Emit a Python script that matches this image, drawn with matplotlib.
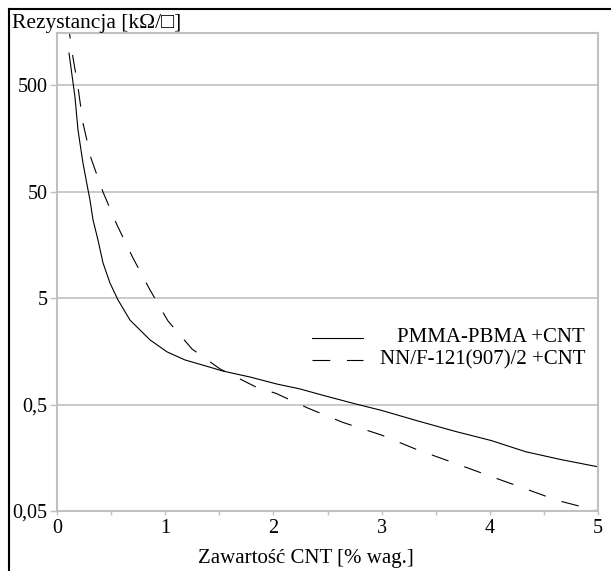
import matplotlib
matplotlib.use("Agg")
import matplotlib.pyplot as plt
from matplotlib.lines import Line2D
from matplotlib.ticker import FixedLocator, NullLocator

# zawartość CNT [% wag.] i rezystancja [kΩ/□]
x_pmma = [0.111, 0.166, 0.194, 0.240, 0.287, 0.305, 0.333, 0.379, 0.425, 0.490,
          0.564, 0.675, 0.860, 1.017, 1.183, 1.414, 1.534, 1.784, 2.033, 2.246,
          2.458, 2.747, 3.0, 3.324, 3.684, 4.009, 4.333, 4.658, 5.0]
r_pmma = [998, 386, 189, 92.6, 51.6, 41.6, 27.0, 17.5, 10.7, 6.9,
          4.79, 3.10, 2.02, 1.56, 1.31, 1.12, 1.03, 0.906, 0.778, 0.70,
          0.61, 0.51, 0.44, 0.353, 0.279, 0.230, 0.18, 0.152, 0.130]

x_nn = [0.10, 0.139, 0.194, 0.240, 0.314, 0.425, 0.555, 0.702, 0.860, 1.026,
        1.248, 1.506, 1.839, 2.026, 2.314, 2.64, 3.0, 3.324, 3.648, 3.973,
        4.297, 4.622, 5.0]
r_nn = [2000, 1021, 479, 220, 103, 49.5, 24.2, 11.9, 5.94, 3.04,
        1.66, 1.08, 0.73, 0.635, 0.465, 0.34, 0.258, 0.189, 0.144, 0.109,
        0.083, 0.063, 0.05]

labels = ['PMMA-PBMA +CNT', 'NN/F-121(907)/2 +CNT']
y_ticks = [0.05, 0.5, 5, 50, 500]
y_ticklabels = ['0,05', '0,5', '5', '50', '500']
x_ticks = [0, 1, 2, 3, 4, 5]

plt.rcParams['font.family'] = ['Liberation Serif', 'DejaVu Serif']
grey = '#c0c0c0'
dash = (16, 15)

fig = plt.figure(figsize=(6.11, 5.71), dpi=100)
ax = fig.add_axes([57 / 611, 60 / 571, 541 / 611, 478 / 571])

ax.plot(x_pmma, r_pmma, color='black', lw=0.8)
ax.plot(x_nn, r_nn, color='black', lw=0.8, dashes=dash)

ax.set_yscale('log')
ax.set_xlim(0, 5)
ax.set_ylim(0.05, 1540)

ax.yaxis.set_major_locator(FixedLocator(y_ticks))
ax.yaxis.set_minor_locator(NullLocator())
ax.set_yticklabels(y_ticklabels)
ax.set_xticks(x_ticks)
ax.set_xticks([0.5, 1.5, 2.5, 3.5, 4.5], minor=True)

ax.grid(axis='y', color=grey, lw=1.2)
ax.set_axisbelow(True)
for s in ax.spines.values():
    s.set_color(grey)
    s.set_linewidth(1.5)
ax.tick_params(which='both', direction='out', width=1, color=grey,
               labelsize=14.5, labelcolor='black')
ax.tick_params(axis='x', which='both', length=3, pad=3)
ax.tick_params(axis='y', length=5, pad=2)

fig.text(12 / 611, 1 - 28 / 571, 'Rezystancja [kΩ/□]', fontsize=15.5,
         ha='left', va='baseline')
fig.text(306 / 611, 1 - 563 / 571, 'Zawartość CNT [% wag.]', fontsize=15,
         ha='center', va='baseline')

# legenda bez ramki, podpisy wyrównane do prawej
leg_y = [0.362, 0.316]
styles = [dict(), dict(dashes=dash)]
for lab, ly, st in zip(labels, leg_y, styles):
    ax.add_line(Line2D([0.471, 0.566], [ly, ly], transform=ax.transAxes,
                       color='black', lw=0.8, **st))
    ax.text(0.976, ly, lab, transform=ax.transAxes, fontsize=15,
            ha='right', va='center')

# ramka wokół wykresu (góra i lewa strona)
fig.add_artist(Line2D([9 / 611, 9 / 611], [0, 1 - 9 / 571], color='black', lw=1.5))
fig.add_artist(Line2D([9 / 611, 1], [1 - 9 / 571, 1 - 9 / 571], color='black', lw=1.5))

plt.savefig('out.png', dpi=100)
